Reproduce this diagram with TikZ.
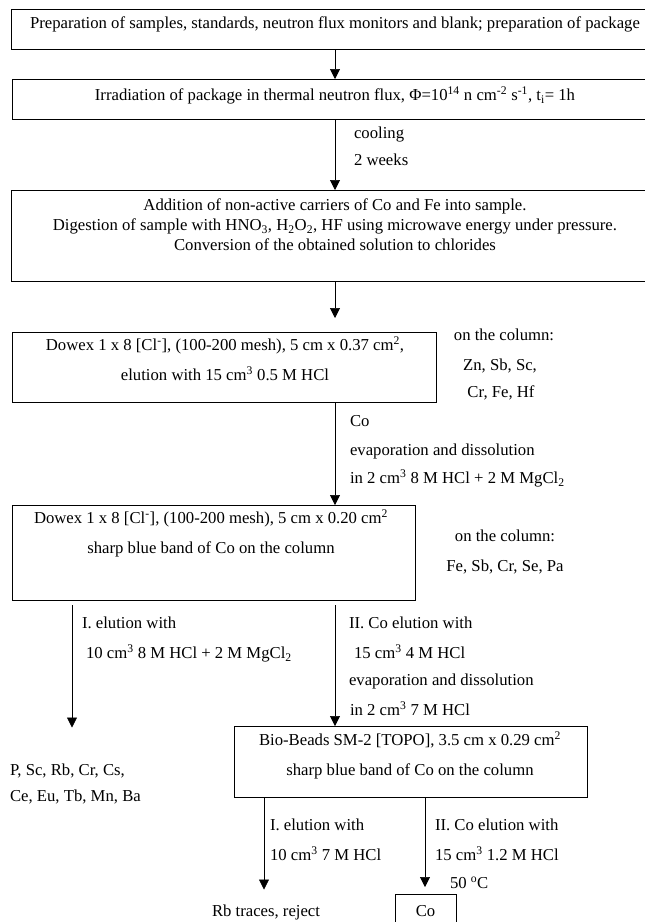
\documentclass[tikz,border=0pt]{standalone}
\usepackage{fontspec}
\setmainfont{Liberation Serif}
\usetikzlibrary{arrows.meta}
\begin{document}
\begin{tikzpicture}[x=1pt,y=-1pt,
  every node/.style={font=\fontsize{16.7pt}{20pt}\selectfont, inner sep=0pt, outer sep=0pt, text height=11pt, text depth=4pt},
  frame/.style={draw, line width=0.7pt},
  lbl/.style={anchor=west},
  arr/.style={-{Triangle[length=10pt,width=10pt]}, line width=0.7pt}
]
\path[use as bounding box] (0,0) rectangle (645,922);
\fill[white] (0,0) rectangle (645,922);
\clip (0,0) rectangle (645,922);

% columns
\coordinate (sp) at (335,0);
\coordinate (lx) at (72,0);
\coordinate (bx1) at (264,0);
\coordinate (bx2) at (425,0);

% frames
\node[frame, minimum width=648pt, minimum height=40pt] (b1) at (335,29) {};
\node[frame, minimum width=646pt, minimum height=40pt] (b2) at (335,99) {};
\node[frame, minimum width=648pt, minimum height=91pt] (b3) at (335,235.5) {};
\node[frame, minimum width=424pt, minimum height=70pt] (b4) at (224,367) {};
\node[frame, minimum width=403pt, minimum height=95pt] (b5) at (213.5,552.5) {};
\node[frame, minimum width=353pt, minimum height=71pt] (b6) at (410.5,761.5) {};
\node[frame, minimum width=61pt, minimum height=38pt] (co) at (425.5,913) {Co};

% box texts
\node (t1) at (335,25) {Preparation of samples, standards, neutron flux monitors and blank; preparation of package};
\node (t2) at (335,97) {Irradiation of package in thermal neutron flux, Φ=10\textsuperscript{14} n cm\textsuperscript{-2} s\textsuperscript{-1}, t\textsubscript{i}= 1h};
\node (t3a) at (335,207) {Addition of non-active carriers of Co and Fe into sample.};
\node (t3b) at (335,227) {Digestion of sample with HNO\textsubscript{3}, H\textsubscript{2}O\textsubscript{2}, HF using microwave energy under pressure.};
\node (t3c) at (335,247) {Conversion of the obtained solution to chlorides};
\node (t4a) at (225,347) {Dowex 1 x 8 [Cl\textsuperscript{-}], (100-200 mesh), 5 cm x 0.37 cm\textsuperscript{2},};
\node (t4b) at (225,377) {elution with 15 cm\textsuperscript{3} 0.5 M HCl};
\node (t5a) at (211,520) {Dowex 1 x 8 [Cl\textsuperscript{-}], (100-200 mesh), 5 cm x 0.20 cm\textsuperscript{2}};
\node (t5b) at (211,550) {sharp blue band of Co on the column};
\node (t6a) at (410,742) {Bio-Beads SM-2 [TOPO], 3.5 cm x 0.29 cm\textsuperscript{2}};
\node (t6b) at (410,772) {sharp blue band of Co on the column};

% side texts
\node (oc1) at (504,337) {on the column:};
\node (oc1a) at (500,367) {Zn, Sb, Sc,};
\node (oc1b) at (501,394) {Cr, Fe, Hf};
\node (oc2) at (505,538) {on the column:};
\node (oc2a) at (505,568) {Fe, Sb, Cr, Se, Pa};
\node[lbl] (pl1) at (10,772) {P, Sc, Rb, Cr, Cs,};
\node[lbl] (pl2) at (10,798) {Ce, Eu, Tb, Mn, Ba};
\node[lbl] (rb) at (212,913) {Rb traces, reject};

% arrow labels
\node[lbl] (l1) at (354,135) {cooling};
\node[lbl] (l2) at (354,162) {2 weeks};
\node[lbl] (l3) at (350,423) {Co};
\node[lbl] (l4) at (350,452) {evaporation and dissolution};
\node[lbl] (l5) at (350,480) {in 2 cm\textsuperscript{3} 8 M HCl + 2 M MgCl\textsubscript{2}};
\node[lbl] (l6) at (82,625) {I. elution with};
\node[lbl] (l7) at (86,655) {10 cm\textsuperscript{3} 8 M HCl + 2 M MgCl\textsubscript{2}};
\node[lbl] (l8) at (349,625) {II. Co elution with};
\node[lbl] (l9) at (354,655) {15 cm\textsuperscript{3} 4 M HCl};
\node[lbl] (l10) at (349,682) {evaporation and dissolution};
\node[lbl] (l11) at (350,712) {in 2 cm\textsuperscript{3} 7 M HCl};
\node[lbl] (l12) at (270,827) {I. elution with};
\node[lbl] (l13) at (270,857) {10 cm\textsuperscript{3} 7 M HCl};
\node[lbl] (l14) at (435,827) {II. Co elution with};
\node[lbl] (l15) at (435,857) {15 cm\textsuperscript{3} 1.2 M HCl};
\node[lbl] (l16) at (450,885) {50 \textsuperscript{o}C};

% connectors
\coordinate (a3end) at (335,318);
\draw[arr] (b1.south -| sp) -- (b2.north -| sp);
\draw[arr] (b2.south -| sp) -- (b3.north -| sp);
\draw[arr] (b3.south -| sp) -- (a3end);
\draw[arr] (b4.south -| sp) -- (b5.north -| sp);
\draw[arr, shorten <=5pt, shorten >=37pt] (b5.south -| lx) -- (pl1.north -| lx);
\draw[arr, shorten <=5pt] (b5.south -| sp) -- (b6.north -| sp);
\draw[arr, shorten >=16pt] (b6.south -| bx1) -- (rb.north -| bx1);
\draw[arr, shorten >=7pt] (b6.south -| bx2) -- (co.north -| bx2);
\end{tikzpicture}
\end{document}
